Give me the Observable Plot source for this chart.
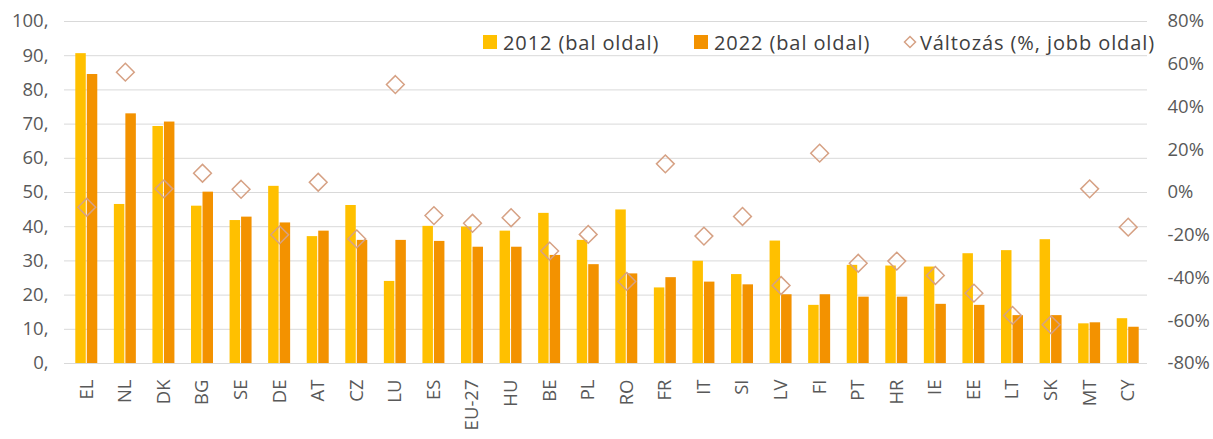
<!DOCTYPE html>
<html><head><meta charset="utf-8">
<script src="https://cdn.jsdelivr.net/npm/d3@7"></script>
<script src="https://cdn.jsdelivr.net/npm/@observablehq/plot@0.6"></script>
<style>
body{margin:0;background:#fff;font-family:"Open Sans",Lato,sans-serif;}
#wrap{position:relative;width:1213px;height:439px;overflow:hidden;}
.lg{position:absolute;top:29px;height:26px;display:flex;align-items:center;font-size:20px;letter-spacing:0.9px;color:#404040;white-space:nowrap;}
.sw{width:14px;height:14px;margin-right:6px;display:inline-block;}
</style></head>
<body><div id="wrap"></div>
<script>
const countries = ["EL","NL","DK","BG","SE","DE","AT","CZ","LU","ES","EU-27","HU","BE","PL","RO","FR","IT","SI","LV","FI","PT","HR","IE","EE","LT","SK","MT","CY"];
const v2012 = [90.6,46.5,69.3,46.0,41.8,51.8,37.1,46.2,24.0,40.1,39.9,38.7,43.9,36.0,44.9,22.1,29.9,26.0,35.8,17.0,28.7,28.5,28.2,32.1,33.0,36.2,11.6,13.1];
const v2022 = [84.5,73.0,70.6,50.1,42.8,41.1,38.7,36.0,36.0,35.7,34.0,34.0,31.6,28.9,26.2,25.1,23.8,23.0,20.1,20.1,19.4,19.4,17.3,17.0,14.0,14.0,11.9,10.6];
const change = [-6.9,56.3,1.7,9.0,1.5,-19.8,4.8,-21.7,50.5,-10.8,-14.4,-11.8,-27.4,-19.6,-41.6,13.4,-20.4,-11.2,-43.5,18.4,-33.1,-32.1,-38.8,-47.1,-57.5,-61.9,1.7,-16.2];
const leftTicks = [0,10,20,30,40,50,60,70,80,90,100];
const rightTicks = [-80,-60,-40,-20,0,20,40,60,80];
const seriesNames = ["2012 (bal oldal)","2022 (bal oldal)","Változás (%, jobb oldal)"];
const colors = {y2012:"#FFC000", y2022:"#F39200", diamond:"#D6A184", grid:"#D9D9D9", text:"#595959"};

const data = countries.map((c,i)=>({country:c, a:v2012[i], b:v2022[i], ch:change[i]}));
// right axis (-80%..80%) mapped onto left axis (0..100)
const toLeft = p => (p + 80) / 1.6;

const chart = Plot.plot({
  width: 1213, height: 439,
  marginTop: 21, marginBottom: 76, marginLeft: 64, marginRight: 66,
  style: {fontFamily: "'Open Sans', Lato, sans-serif", fontSize: "18.5px", color: colors.text, background: "#fff"},
  x: {type: "band", domain: countries, paddingInner: 0.43, paddingOuter: 0.215, round: false, insetLeft: 3, insetRight: 0, label: null},
  y: {domain: [0, 100], label: null},
  marks: [
    Plot.ruleY(leftTicks, {stroke: colors.grid, strokeWidth: 1}),
    Plot.barY(data, {x: "country", y: "a", fill: colors.y2012, insetRight: 11.5}),
    Plot.barY(data, {x: "country", y: "b", fill: colors.y2022, insetLeft: 11.5}),
    Plot.dot(data, {x: "country", y: d => toLeft(d.ch), symbol: "diamond2", r: 8, fill: "none", stroke: colors.diamond, strokeWidth: 1.5}),
    Plot.axisY(leftTicks, {anchor: "left", tickSize: 0, tickPadding: 16, tickFormat: d => d + ",", label: null}),
    Plot.axisY(rightTicks.map(toLeft), {anchor: "right", tickSize: 0, tickPadding: 20, tickFormat: v => Math.round(v * 1.6 - 80) + "%", label: null}),
    Plot.axisX({tickRotate: -90, tickSize: 0, tickPadding: 16, label: null})
  ]
});
const wrap = document.getElementById("wrap");
wrap.appendChild(chart);

// legend
const items = [
  {left: 483, label: seriesNames[0], html: `<span class="sw" style="background:${colors.y2012}"></span>`},
  {left: 694, label: seriesNames[1], html: `<span class="sw" style="background:${colors.y2022}"></span>`},
  {left: 903, label: seriesNames[2], html: `<svg width="14" height="14" style="margin-right:3px"><path d="M7,1.5L12.5,7L7,12.5L1.5,7Z" fill="none" stroke="${colors.diamond}" stroke-width="1.5"/></svg>`}
];
for (const it of items) {
  const d = document.createElement("div");
  d.className = "lg";
  d.style.left = it.left + "px";
  d.innerHTML = it.html + `<span>${it.label}</span>`;
  wrap.appendChild(d);
}
</script></body></html>
